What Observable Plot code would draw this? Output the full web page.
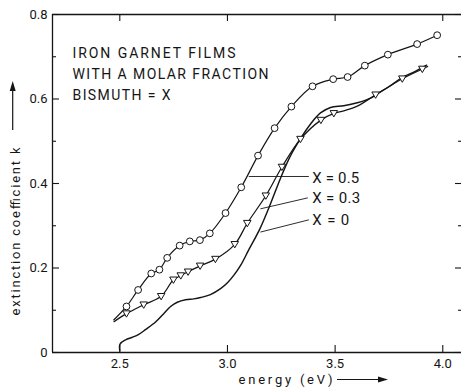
<!DOCTYPE html>
<html>
<head>
<meta charset="utf-8">
<script src="https://cdn.jsdelivr.net/npm/d3@7"></script>
<script src="https://cdn.jsdelivr.net/npm/@observablehq/plot@0.6"></script>
<style>
  html, body { margin: 0; padding: 0; background: #fff; }
  #chart svg { display: block; }
</style>
</head>
<body>
<div id="chart"></div>
<script>
// Axis domains and ticks
const xDomain = [2.1874, 4.087];
const yDomain = [0, 0.8];
const xTicks = [2.5, 3.0, 3.5, 4.0];
const yMajor = [0, 0.2, 0.4, 0.6, 0.8];
const yMinor = [0.1, 0.3, 0.5, 0.7];

// X = 0.5 : measured points (circles) and the start of the trace
const e05 = [2.531, 2.585, 2.646, 2.684, 2.720, 2.778, 2.825, 2.872, 2.918, 2.991, 3.064, 3.142, 3.219, 3.297, 3.395, 3.491, 3.558, 3.638, 3.745, 3.881, 3.974];
const k05 = [0.109, 0.148, 0.187, 0.196, 0.224, 0.253, 0.263, 0.266, 0.282, 0.330, 0.391, 0.466, 0.531, 0.582, 0.630, 0.647, 0.652, 0.679, 0.705, 0.730, 0.751];
const start05 = {e: 2.472, k: 0.077};

// X = 0.3 : measured points (triangles) plus trace-only points
const e03 = [2.531, 2.611, 2.692, 2.749, 2.783, 2.817, 2.873, 2.944, 3.034, 3.092, 3.178, 3.253, 3.339, 3.434, 3.494, 3.688, 3.812, 3.905];
const k03 = [0.092, 0.113, 0.133, 0.172, 0.182, 0.191, 0.205, 0.221, 0.256, 0.306, 0.371, 0.439, 0.505, 0.550, 0.566, 0.610, 0.648, 0.671];
const e03Trace = [2.473, 3.540, 3.603, 3.930];
const k03Trace = [0.073, 0.572, 0.583, 0.677];

// X = 0 : continuous trace
const e0 = [2.500, 2.501, 2.527, 2.558, 2.588, 2.619, 2.666, 2.704, 2.736, 2.767, 2.805, 2.844, 2.875, 2.921, 2.968, 3.000, 3.030, 3.061, 3.100, 3.150, 3.200, 3.246, 3.293, 3.340, 3.386, 3.432, 3.479, 3.540, 3.603, 3.665, 3.696, 3.750, 3.812, 3.870, 3.925];
const k0 = [0.004, 0.020, 0.030, 0.036, 0.043, 0.054, 0.072, 0.092, 0.109, 0.119, 0.125, 0.127, 0.130, 0.137, 0.151, 0.165, 0.183, 0.206, 0.244, 0.292, 0.352, 0.412, 0.466, 0.507, 0.541, 0.567, 0.580, 0.584, 0.591, 0.602, 0.612, 0.629, 0.651, 0.665, 0.680];

// Curve labels with their leader lines
const labelText = ["X = 0.5", "X = 0.3", "X = 0"];
const labelE = [3.394, 3.394, 3.394];
const labelK = [0.401, 0.353, 0.301];
const leaderFromE = [3.099, 3.153, 3.153];
const leaderFromK = [0.4166, 0.340, 0.285];
const leaderToE = [3.378, 3.373, 3.378];
const leaderToK = [0.4166, 0.366, 0.314];

const noteLines = ["IRON GARNET FILMS", "WITH A MOLAR FRACTION", "BISMUTH = X"];
const yTitle = "extinction coefficient k";
const xTitle = "energy (eV)";

// ---------------------------------------------------------------
const W = 461, H = 387;
const M = {top: 14, right: 0, bottom: 35, left: 52};
const plotW = W - M.left - M.right;
const plotH = H - M.top - M.bottom;
const INK = "#151515";
const FONT = "Roboto, 'Liberation Sans', sans-serif";

const rows = (E, K) => E.map((e, i) => ({e, k: K[i]}));
const pts05 = rows(e05, k05);
const pts03 = rows(e03, k03);
const trace05 = [start05, ...pts05];
const trace03 = [...pts03, ...rows(e03Trace, k03Trace)].sort((a, b) => a.e - b.e);
const trace0 = rows(e0, k0);
const labels = labelText.map((t, i) => ({
  t, e: labelE[i], k: labelK[i],
  e1: leaderFromE[i], k1: leaderFromK[i], e2: leaderToE[i], k2: leaderToK[i]
}));

// downward-pointing triangle symbol
const triangleDown = {
  draw(ctx, size) {
    const s = Math.sqrt(size) * 0.62;
    ctx.moveTo(-s, -s * 0.75);
    ctx.lineTo(s, -s * 0.75);
    ctx.lineTo(0, s * 0.95);
    ctx.closePath();
  }
};

const chart = Plot.plot({
  width: W,
  height: H,
  marginTop: M.top,
  marginRight: M.right,
  marginBottom: M.bottom,
  marginLeft: M.left,
  style: {fontFamily: FONT, fontSize: "13px", color: INK, background: "#fff"},
  x: {domain: xDomain, axis: null},
  y: {domain: yDomain, axis: null},
  marks: [
    // frame: bottom, top and left edges
    Plot.ruleY(yDomain, {stroke: INK, strokeWidth: 1.3}),
    Plot.ruleX([xDomain[0]], {stroke: INK, strokeWidth: 1.3}),
    // inward ticks
    Plot.tickX(xTicks, {x: d => d, insetTop: plotH - 7, stroke: INK, strokeWidth: 1.1}),
    Plot.tickX(xTicks, {x: d => d, insetBottom: plotH - 7, stroke: INK, strokeWidth: 1.1}),
    Plot.tickY(yMajor, {y: d => d, insetRight: plotW - 7, stroke: INK, strokeWidth: 1.1}),
    Plot.tickY(yMinor, {y: d => d, insetRight: plotW - 4, stroke: INK, strokeWidth: 1.1}),
    Plot.tickY(yMajor, {y: d => d, insetLeft: plotW - 6, stroke: INK, strokeWidth: 1.1}),
    Plot.tickY(yMinor, {y: d => d, insetLeft: plotW - 3, stroke: INK, strokeWidth: 1.1}),
    // tick labels
    Plot.axisY({ticks: yMajor, tickSize: 0, tickPadding: 5, label: null,
      tickFormat: d => d === 0 ? "0" : d.toFixed(1), fill: INK}),
    Plot.axisX({ticks: xTicks, tickSize: 0, tickPadding: 6, label: null,
      tickFormat: d => d.toFixed(1), fill: INK}),
    // curves
    Plot.line(trace0, {x: "e", y: "k", curve: "catmull-rom", stroke: INK, strokeWidth: 1.45}),
    Plot.line(trace03, {x: "e", y: "k", curve: "catmull-rom", stroke: INK, strokeWidth: 1.25}),
    Plot.line(trace05, {x: "e", y: "k", curve: "catmull-rom", stroke: INK, strokeWidth: 1.2}),
    Plot.dot(pts03, {x: "e", y: "k", symbol: triangleDown, r: 3.4, fill: "#fff", stroke: INK, strokeWidth: 1}),
    Plot.dot(pts05, {x: "e", y: "k", r: 3.4, fill: "#fff", stroke: INK, strokeWidth: 1}),
    // curve labels
    Plot.link(labels, {x1: "e1", y1: "k1", x2: "e2", y2: "k2", stroke: INK, strokeWidth: 0.9}),
    Plot.text(labels, {x: "e", y: "k", text: "t", textAnchor: "start", lineAnchor: "bottom",
      fontSize: 15, fill: INK}),
    // annotation block
    ...noteLines.map((line, i) => Plot.text([line], {
      frameAnchor: "top-left", dx: 20, dy: 43 + i * 21, textAnchor: "start", lineAnchor: "bottom",
      fontSize: 14, fill: INK
    })),
    // axis titles
    Plot.text([yTitle], {frameAnchor: "left", rotate: -90, textAnchor: "middle", lineAnchor: "middle",
      dx: -36.5, dy: 48, fontSize: 13, fill: INK}),
    Plot.text([xTitle], {frameAnchor: "bottom", textAnchor: "start", lineAnchor: "bottom",
      dx: -18.5, dy: 31, fontSize: 13, fill: INK})
  ]
});

document.getElementById("chart").appendChild(chart);

// spread lettering to the typeset widths
const typesetWidth = new Map([
  [noteLines[0], 163], [noteLines[1], 196], [noteLines[2], 98],
  [labelText[0], 47], [labelText[1], 48], [labelText[2], 37],
  [yTitle, 168], [xTitle, 94]
]);
const svg = d3.select(chart);
svg.selectAll("text").each(function () {
  const w = typesetWidth.get(this.textContent);
  if (w == null) return;
  this.setAttribute("textLength", w);
  this.setAttribute("lengthAdjust", "spacing");
});

// arrows beside the axis titles
const arrows = svg.append("g").attr("aria-label", "title-arrows");
const ax = M.left - 39.3;
arrows.append("line").attr("x1", ax).attr("x2", ax).attr("y1", 130).attr("y2", 88)
  .attr("stroke", INK).attr("stroke-width", 1.2);
arrows.append("path").attr("d", `M${ax},81 L${ax - 3},91 L${ax + 3},91 Z`).attr("fill", INK);
const ay = H - 7.5;
arrows.append("line").attr("x1", 337).attr("x2", 380).attr("y1", ay).attr("y2", ay)
  .attr("stroke", INK).attr("stroke-width", 1.2);
arrows.append("path").attr("d", `M388,${ay} L378,${ay - 3} L378,${ay + 3} Z`).attr("fill", INK);
</script>
</body>
</html>
